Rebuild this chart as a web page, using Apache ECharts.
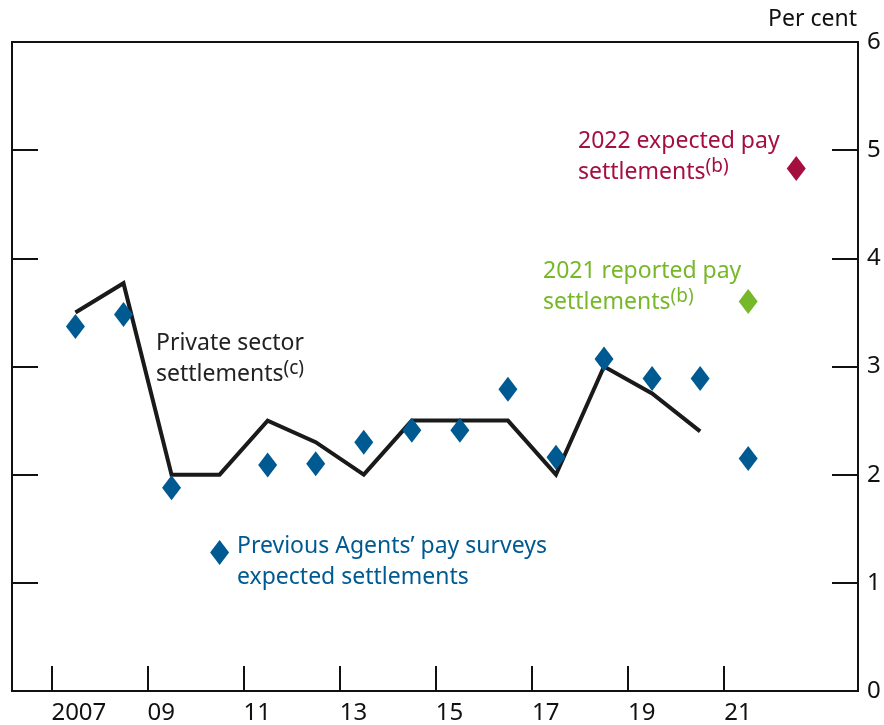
<!DOCTYPE html>
<html>
<head>
<meta charset="utf-8">
<script src="https://cdn.jsdelivr.net/npm/echarts@6/dist/echarts.min.js"></script>
<style>
  html, body { margin: 0; padding: 0; background: #fff; }
  #chart { width: 884px; height: 725px; }
</style>
</head>
<body>
<div id="chart"></div>
<script>
// years (points drawn at mid-year)
var lineYears = [2007, 2008, 2009, 2010, 2011, 2012, 2013, 2014, 2015, 2016, 2017, 2018, 2019, 2020];
var privateSettlements = [3.5, 3.77, 2.0, 2.0, 2.5, 2.3, 2.0, 2.5, 2.5, 2.5, 2.0, 3.0, 2.75, 2.4];

var surveyYears = [2007, 2008, 2009, 2010, 2011, 2012, 2013, 2014, 2015, 2016, 2017, 2018, 2019, 2020, 2021];
var surveyExpected = [3.37, 3.48, 1.88, 1.28, 2.09, 2.1, 2.3, 2.41, 2.41, 2.79, 2.16, 3.07, 2.89, 2.89, 2.15];

var reported2021 = [[2021, 3.6]];
var expected2022 = [[2022, 4.83]];

var xTickYears = [2007, 2009, 2011, 2013, 2015, 2017, 2019, 2021];

var BLUE = '#005a92';
var RED = '#a50f3f';
var GREEN = '#76b82a';
var FONT = 'Noto Sans';

function midYear(years, vals) {
  return years.map(function (y, i) { return [y + 0.5, vals[i]]; });
}
function midPairs(arr) {
  return arr.map(function (p) { return [p[0] + 0.5, p[1]]; });
}

var chart = echarts.init(document.getElementById('chart'));

var yCommon = {
  type: 'value',
  min: 0,
  max: 6,
  interval: 1,
  splitLine: { show: false },
  axisLine: { show: false },
  axisTick: { show: true, inside: true, length: 26, lineStyle: { color: '#111', width: 2 } }
};

function note(x, y, text, color, sup) {
  return {
    type: 'text',
    left: x,
    top: y,
    style: {
      text: text + '{s|' + sup + '}',
      fill: color,
      font: '23px "' + FONT + '"',
      lineHeight: 31,
      rich: {
        s: { fontSize: 19, fontFamily: FONT, fill: color, verticalAlign: 'top', lineHeight: 20 }
      }
    }
  };
}

chart.setOption({
  animation: false,
  backgroundColor: '#fff',
  textStyle: { fontFamily: FONT },
  grid: {
    left: 12, right: 26, top: 42, bottom: 33,
    show: true, borderColor: '#111', borderWidth: 2, backgroundColor: 'transparent'
  },
  xAxis: {
    type: 'value',
    min: 2006.18,
    max: 2023.785,
    splitLine: { show: false },
    axisLine: { show: false },
    axisTick: {
      show: true, inside: true, length: 25,
      customValues: xTickYears,
      lineStyle: { color: '#111', width: 2 }
    },
    axisLabel: {
      show: true,
      customValues: xTickYears,
      align: 'left',
      margin: 10,
      color: '#111',
      fontSize: 24,
      fontFamily: FONT,
      formatter: function (v) {
        return v === 2007 ? '2007' : String(v % 100).padStart(2, '0');
      }
    }
  },
  yAxis: [
    Object.assign({}, yCommon, {
      position: 'right',
      axisLabel: { show: true, margin: 9, color: '#111', fontSize: 24, fontFamily: FONT }
    }),
    Object.assign({}, yCommon, {
      position: 'left',
      axisLabel: { show: false }
    })
  ],
  graphic: [
    { type: 'text', right: 27, top: 8, style: { text: 'Per cent', fill: '#111', font: '23px "' + FONT + '"' } },
    note(156, 328, 'Private sector\nsettlements', '#222', '(c)'),
    note(578, 126, '2022 expected pay\nsettlements', RED, '(b)'),
    note(543, 256, '2021 reported pay\nsettlements', GREEN, '(b)'),
    {
      type: 'text', left: 237, top: 531,
      style: {
        text: 'Previous Agents\u2019 pay surveys\nexpected settlements',
        fill: BLUE, font: '23px "' + FONT + '"', lineHeight: 31
      }
    }
  ],
  series: [
    {
      name: 'Private sector settlements',
      type: 'line',
      data: midYear(lineYears, privateSettlements),
      showSymbol: false,
      symbol: 'none',
      lineStyle: { color: '#1a1a1a', width: 4, join: 'miter' },
      z: 2
    },
    {
      name: 'Previous Agents\u2019 pay surveys expected settlements',
      type: 'scatter',
      data: midYear(surveyYears, surveyExpected),
      symbol: 'diamond',
      symbolSize: [19, 25],
      itemStyle: { color: BLUE, opacity: 1 },
      z: 3
    },
    {
      name: '2021 reported pay settlements',
      type: 'scatter',
      data: midPairs(reported2021),
      symbol: 'diamond',
      symbolSize: [19, 25],
      itemStyle: { color: GREEN, opacity: 1 },
      z: 3
    },
    {
      name: '2022 expected pay settlements',
      type: 'scatter',
      data: midPairs(expected2022),
      symbol: 'diamond',
      symbolSize: [19, 25],
      itemStyle: { color: RED, opacity: 1 },
      z: 3
    }
  ]
});
</script>
</body>
</html>
